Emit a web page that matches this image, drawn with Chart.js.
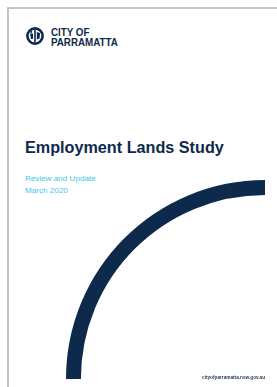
<!DOCTYPE html>
<html>
<head>
<meta charset="utf-8">
<script src="https://cdn.jsdelivr.net/npm/chart.js@4"></script>
<style>
  html, body { margin: 0; padding: 0; background: #fff; }
  body { width: 277px; height: 387px; position: relative; overflow: hidden; font-family: "Liberation Sans", Arial, sans-serif; }
  .edge-top { position: absolute; left: 7px; top: 7px; width: 270px; height: 2px; background: #c4c4c4; }
  .edge-left { position: absolute; left: 7px; top: 7px; width: 2px; height: 380px; background: #c4c4c4; }
  .logo { position: absolute; left: 26px; top: 26.5px; }
  .logo-text { position: absolute; left: 51px; top: 26.5px; color: #0d2a4c; font-weight: bold; font-size: 11px; line-height: 10px; transform: scaleX(0.89); transform-origin: left top; white-space: nowrap; }
  .title { position: absolute; left: 25px; top: 139px; color: #0d2a4c; font-weight: bold; font-size: 16.2px; line-height: 16.2px; white-space: nowrap; }
  .sub { position: absolute; left: 25px; color: #41c8ea; font-size: 8.1px; line-height: 8.1px; white-space: nowrap; }
  .footer { position: absolute; right: 12px; top: 374.5px; color: #2a3f5c; font-weight: bold; font-size: 9.4px; line-height: 9.4px; transform: scale(0.5); transform-origin: right top; white-space: nowrap; }
  #arcWrap { position: absolute; left: 66px; top: 180px; width: 199px; height: 199px; }
</style>
</head>
<body>
<div class="edge-top"></div>
<div class="edge-left"></div>

<svg class="logo" width="18" height="18" viewBox="0 0 18 18">
  <circle cx="9" cy="9" r="7.6" fill="#fff" stroke="#0d2a4c" stroke-width="2.6"/>
  <rect x="8.2" y="3" width="1.6" height="12" fill="#0d2a4c"/>
  <path d="M4 6.5 L7 6.5 L7 12 L5 12 Z" fill="#0d2a4c"/>
  <path d="M10.8 5 L14 6 L13.6 11.5 L10.8 12.5 Z" fill="#0d2a4c"/>
  <circle cx="5.3" cy="5" r="0.9" fill="#0d2a4c"/>
</svg>
<div class="logo-text">CITY OF<br>PARRAMATTA</div>

<div class="title">Employment Lands Study</div>
<div class="sub" style="top:174.8px">Review and Update</div>
<div class="sub" style="top:187.4px">March 2020</div>

<div id="arcWrap"><canvas id="arcChart"></canvas></div>

<div class="footer">cityofparramatta.nsw.gov.au</div>

<script>
// DATA FOR THE COVER ARC
// one slice drawn as a quarter ring in the lower right
const arcLabels = ['Cover arc'];
const arcValues = [1];
const arcColours = ['#0d2a4c'];

const arcCtx = document.getElementById('arcChart').getContext('2d');
new Chart(arcCtx, {
  type: 'doughnut',
  data: {
    labels: arcLabels,
    datasets: [
      {
        data: arcValues,
        backgroundColor: arcColours,
        borderWidth: 0,
        hoverOffset: 0
      }
    ]
  },
  options: {
    responsive: true,
    maintainAspectRatio: false,
    animation: false,
    rotation: -90,
    circumference: 90,
    cutout: '92.5%',
    layout: { padding: 0 },
    plugins: {
      legend: { display: false },
      tooltip: { enabled: false }
    }
  }
});
</script>
</body>
</html>
